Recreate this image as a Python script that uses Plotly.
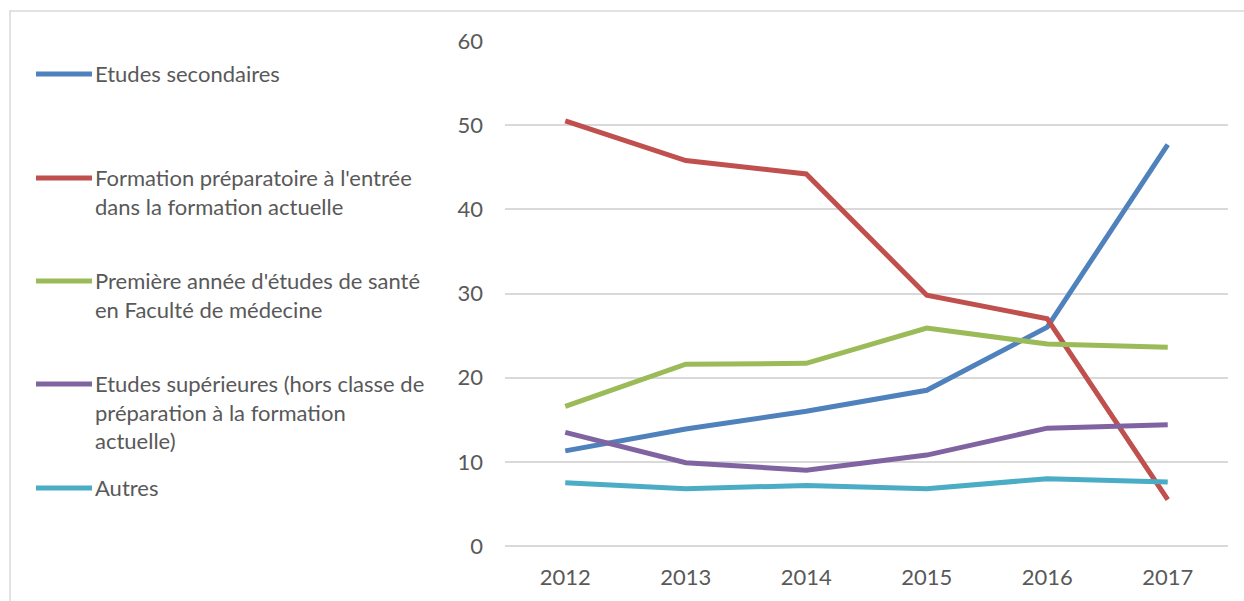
import plotly.graph_objects as go

years = ["2012", "2013", "2014", "2015", "2016", "2017"]

etudes_secondaires = [11.3, 13.9, 16.0, 18.5, 26.0, 47.7]
formation_preparatoire = [50.5, 45.8, 44.2, 29.8, 27.0, 5.5]
premiere_annee_sante = [16.6, 21.6, 21.7, 25.9, 24.0, 23.6]
etudes_superieures = [13.5, 9.9, 9.0, 10.8, 14.0, 14.4]
autres = [7.5, 6.8, 7.2, 6.8, 8.0, 7.6]

series_names = [
    "Etudes secondaires",
    "Formation préparatoire à l'entrée<br>dans la formation actuelle",
    "Première année d'études de santé<br>en Faculté de médecine",
    "Etudes supérieures (hors classe de<br>préparation à la formation<br>actuelle)",
    "Autres",
]
series_values = [
    etudes_secondaires,
    formation_preparatoire,
    premiere_annee_sante,
    etudes_superieures,
    autres,
]
colors = ["#4F81BD", "#C0504D", "#9BBB59", "#8064A2", "#4BACC6"]

# pixel geometry of the plot area in the 1244x601 picture
W, H = 1244, 601
L, R, T, B = 505, 1228, 41, 546


def px_x(x):
    return (x - L) / (R - L)


def px_y(y):
    return (B - y) / (B - T)


fig = go.Figure()

for name, vals, col in zip(series_names, series_values, colors):
    fig.add_scatter(
        x=years,
        y=vals,
        mode="lines",
        name=name,
        line=dict(color=col, width=5),
        showlegend=False,
    )

# hand-made legend on the left
legend_y = [74, 178, 281, 384, 488]
for name, col, ly in zip(series_names, colors, legend_y):
    fig.add_shape(
        type="line",
        xref="paper", yref="paper",
        x0=px_x(36), x1=px_x(92), y0=px_y(ly), y1=px_y(ly),
        line=dict(color=col, width=5),
    )
    fig.add_annotation(
        text=name,
        xref="paper", yref="paper",
        x=px_x(93), y=px_y(ly - 16),
        xanchor="left", yanchor="top",
        align="left",
        showarrow=False,
        font=dict(size=22, color="#595959", family="Lato"),
    )

# chart border (only top/left visible in the crop)
fig.add_shape(
    type="rect",
    xref="paper", yref="paper",
    x0=px_x(10), x1=px_x(1300), y0=px_y(700), y1=px_y(11),
    line=dict(color="#D9D9D9", width=1.5),
    layer="below",
)

fig.update_layout(
    width=W,
    height=H,
    margin=dict(l=L, r=W - R, t=T, b=H - B),
    paper_bgcolor="white",
    plot_bgcolor="white",
    font=dict(family="Lato", size=22, color="#595959"),
)

fig.update_xaxes(
    type="category",
    range=[-0.5, 5.5],
    showgrid=False,
    showline=False,
    zeroline=False,
    ticklabelstandoff=16,
)

fig.update_yaxes(
    range=[0, 60],
    dtick=10,
    showgrid=True,
    gridcolor="#D9D9D9",
    gridwidth=1.5,
    zeroline=True,
    zerolinecolor="#D9D9D9",
    zerolinewidth=1.5,
    showline=False,
    ticklabelstandoff=21,
)

fig.write_html(
    "out.html",
    config={"displayModeBar": False},
    post_script="document.body.style.margin='0';document.body.style.overflow='hidden';",
)
